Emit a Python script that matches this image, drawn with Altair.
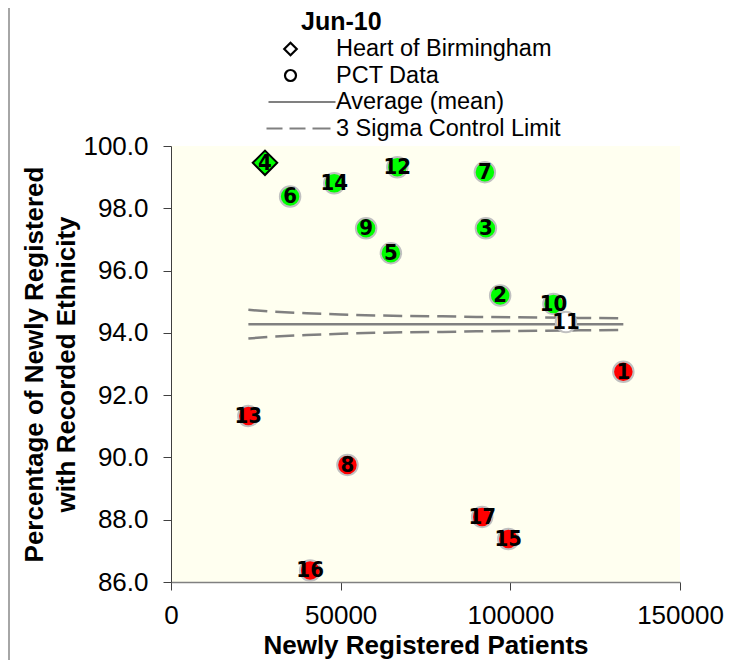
import altair as alt
import pandas as pd

# ---- data ----
pct_ids = [1, 2, 3, 4, 5, 6, 7, 8, 9, 10, 11, 12, 13, 14, 15, 16, 17]
patients = [133300, 97000, 92800, 27700, 64800, 35100, 92500, 52000, 57500,
            112700, 116400, 66700, 22800, 48100, 99400, 41000, 91700]
pct_recorded = [92.75, 95.20, 97.36, 99.46, 96.56, 98.38, 99.16, 89.76, 97.36,
                94.93, 94.35, 99.32, 91.33, 98.80, 87.38, 86.37, 88.09]
status = ["below", "above", "above", "above", "above", "above", "above", "below", "above",
          "above", "within", "above", "below", "above", "below", "below", "below"]
hob_id = 4

mean_x = [22800, 133300]
mean_y = [94.28, 94.28]

limit_x = [22800, 30000, 40000, 50000, 60000, 70000, 80000, 90000, 100000, 110000, 120000, 133300]
upper_limit = [94.74, 94.68, 94.63, 94.59, 94.56, 94.54, 94.53, 94.51, 94.50, 94.49, 94.48, 94.47]
lower_limit = [93.82, 93.88, 93.93, 93.97, 94.00, 94.02, 94.03, 94.05, 94.06, 94.07, 94.08, 94.09]

legend_items = ["Heart of Birmingham", "PCT Data", "Average (mean)", "3 Sigma Control Limit"]
legend_title = "Jun-10"

x_ticks = [0, 50000, 100000, 150000]
y_ticks = [86, 88, 90, 92, 94, 96, 98, 100]

# ---- styling ----
FONT = "Liberation Sans, Arial, sans-serif"
NARROW = "Liberation Sans Narrow, Arial Narrow, DejaVu Sans Condensed, sans-serif"
GREY = "#808080"

pts = pd.DataFrame({"id": pct_ids, "n": patients, "p": pct_recorded, "status": status})
pct_pts = pts[pts["id"] != hob_id]
hob_pts = pts[pts["id"] == hob_id]

mean_df = pd.DataFrame({"n": mean_x, "p": mean_y})
lim_df = pd.concat([
    pd.DataFrame({"n": limit_x, "p": upper_limit, "bound": "upper"}),
    pd.DataFrame({"n": limit_x, "p": lower_limit, "bound": "lower"}),
])
legend_df = pd.DataFrame({"item": legend_items, "n": [None] * 4, "p": [None] * 4})

x_scale = alt.Scale(domain=[0, 150000], nice=False)
y_scale = alt.Scale(domain=[86, 100], nice=False, zero=False)

x_axis = alt.Axis(values=x_ticks, format="d", title="Newly Registered Patients", grid=False,
                  tickSize=8, labelPadding=12.5, labelFontSize=26, labelFont=FONT,
                  labelColor="black", labelFlush=False, labelOverlap=False,
                  titleFontSize=26, titleFont=FONT, titleFontWeight="bold", titleColor="black",
                  titleX=254.5, titleY=71, titleBaseline="alphabetic", titleAlign="center",
                  domainColor=GREY, domainWidth=1.5, tickColor="#404040")
y_axis = alt.Axis(values=y_ticks, format=".1f",
                  title=["Percentage of Newly Registered", "with Recorded Ethnicity"],
                  grid=False, tickSize=8, labelPadding=15, labelFontSize=26, labelFont=FONT,
                  labelColor="black", labelFlush=False, labelOverlap=False,
                  titleFontSize=26, titleFont=FONT, titleFontWeight="bold", titleColor="black",
                  titleX=-150, titleY=218, titleAngle=270, titleBaseline="top",
                  titleAlign="center", titleLineHeight=32,
                  domainColor="#404040", domainWidth=1, tickColor="#404040")

X = alt.X("n:Q", scale=x_scale, axis=x_axis)
Y = alt.Y("p:Q", scale=y_scale, axis=y_axis)

mean_line = alt.Chart(mean_df).mark_line(color=GREY, strokeWidth=2.5).encode(x=X, y=Y)
limit_lines = alt.Chart(lim_df).mark_line(color=GREY, strokeWidth=2.5, strokeDash=[19, 8]).encode(
    x=X, y=Y, detail="bound:N")

circles = alt.Chart(pct_pts).mark_point(shape="circle", filled=True, size=420,
                                        stroke="#C0C0C0", strokeWidth=2, opacity=1).encode(
    x=X, y=Y,
    fill=alt.Fill("status:N", scale=alt.Scale(domain=["above", "within", "below"],
                                              range=["#00FF00", "#FFFFFF", "#FF0000"]),
                  legend=None))
diamond = alt.Chart(hob_pts).mark_point(shape="diamond", filled=True, size=600,
                                        fill="#00FF00", stroke="black", strokeWidth=2,
                                        opacity=1).encode(x=X, y=Y)
labels = alt.Chart(pts).mark_text(font=NARROW, fontSize=22, fontWeight="bold", color="black",
                                  baseline="middle", align="center").encode(
    x=X, y=Y, text="id:N")

legend_paths = [
    "M-1.96,-0.5L-1.46,0L-1.96,0.5L-2.46,0Z",
    "M-1.52,0A0.44,0.44,0,1,1,-2.4,0A0.44,0.44,0,1,1,-1.52,0Z",
    "M-3.72,0L1.64,0",
    "M-3.88,0L-2.6,0M-2.04,0L-0.76,0M-0.2,0L1.24,0",
]
leg = alt.Legend(title=legend_title, orient="none", legendX=130, legendY=-136,
                 titleAnchor="start", titleAlign="left", titleFontSize=25, titleFont=FONT,
                 titleFontWeight="bold", titleColor="black", titlePadding=0, titleBaseline="top",
                 labelFontSize=23.5, labelFont=FONT, labelColor="black", labelOffset=7,
                 labelLimit=400, symbolSize=625, symbolStrokeWidth=2.2,
                 symbolFillColor="transparent", symbolOpacity=1,
                 rowPadding=0.5, padding=0)
legend_layer = alt.Chart(legend_df).mark_point(filled=False, strokeWidth=2.2, opacity=1).encode(
    x=X, y=Y,
    shape=alt.Shape("item:N", scale=alt.Scale(domain=legend_items, range=legend_paths), legend=leg),
    stroke=alt.Stroke("item:N", scale=alt.Scale(domain=legend_items,
                                                range=["black", "black", GREY, GREY]), legend=leg))

frame = alt.Chart(pd.DataFrame({"k": [0]})).mark_rule(color="#A6A6A6", strokeWidth=2).encode(
    x=alt.value(-162), y=alt.value(-138), y2=alt.value(520))

chart = alt.layer(limit_lines, mean_line, circles, diamond, labels, legend_layer, frame).properties(
    width=509, height=436,
    autosize=alt.AutoSizeParams(type="none"),
    padding={"left": 163, "top": 138, "right": 46, "bottom": 78},
    background="white",
).configure_view(fill="#FFFFF0", stroke="transparent", strokeWidth=0)

chart.save("out.html", embed_options={"renderer": "svg", "actions": False})
